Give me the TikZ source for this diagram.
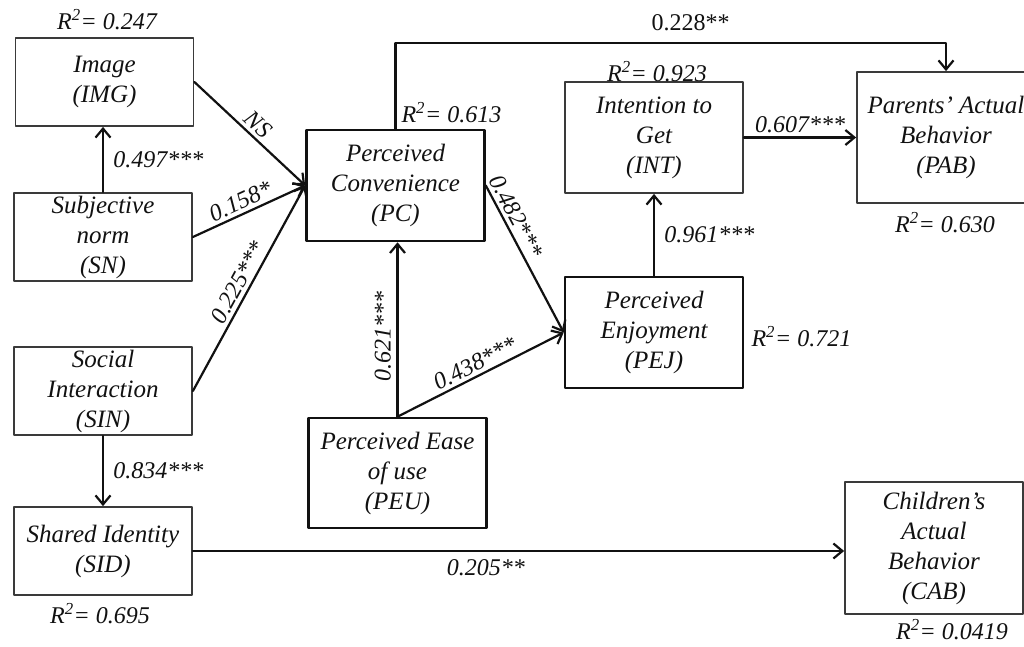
\documentclass[tikz,border=0pt]{standalone}
\usepackage{fontspec}
\setmainfont{Liberation Serif}
\usetikzlibrary{arrows.meta}
\definecolor{tamInk}{HTML}{111111}
\definecolor{tamFrame}{HTML}{3A3A3A}
\definecolor{tamPaper}{HTML}{FFFFFF}
\begin{document}
\begin{tikzpicture}[x=1pt,y=-1pt,>={Straight Barb[length=9pt,width=15pt]},line cap=round,line join=round]
\clip (0,0) rectangle (1024,647);
\path[fill=tamPaper] (0,0) rectangle (1024,647);
\tikzset{box/.style={draw=tamFrame,line width=1.8pt,align=center,text=tamInk,font=\fontsize{25}{30}\selectfont\itshape,minimum width=178pt,inner sep=0pt},boldbox/.style={box,draw=tamInk,line width=2.6pt},link/.style={draw=tamInk,line width=2.2pt,->},coef/.style={text=tamInk,font=\fontsize{24}{28}\selectfont\itshape},rsq/.style={text=tamInk,font=\fontsize{24}{28}\selectfont\itshape}}
\node[box,minimum height=88pt] (img) at (104.5,82) {Image\\(IMG)};
\node[box,minimum height=88pt] (sn) at (103,237) {Subjective\\norm\\(SN)};
\node[box,minimum height=88pt] (sin) at (103,391) {Social\\Interaction\\(SIN)};
\node[box,minimum height=88pt] (sid) at (103,551) {Shared Identity\\(SID)};
\node[boldbox,minimum height=111pt] (pc) at (395.5,185.5) {Perceived\\Convenience\\(PC)};
\node[box,minimum height=111pt] (int) at (654,137.5) {Intention to\\Get\\(INT)};
\node[box,minimum height=131pt] (pab) at (946,137.5) {Parents’ Actual\\Behavior\\(PAB)};
\node[boldbox,minimum height=111pt] (pej) at (654,332.5) {Perceived\\Enjoyment\\(PEJ)};
\node[boldbox,minimum height=110pt] (peu) at (397.5,473) {Perceived Ease\\of use\\(PEU)};
\node[box,minimum height=132pt] (cab) at (934,548) {Children’s\\Actual\\Behavior\\(CAB)};
\draw[link] (sn.north) -- (sn.north |- img.south) node[coef,midway,right=6pt] {0.497***};
\draw[link] (img.east) -- (pc.west) node[coef,pos=0.5,above,sloped] {NS};
\draw[link] (sn.east) -- (pc.west) node[coef,pos=0.47,above,sloped] {0.158*};
\draw[link] (sin.east) -- (pc.west) node[coef,pos=0.5,above,sloped] {0.225***};
\draw[link] (sin.south) -- (sid.north) node[coef,midway,right=6pt] {0.834***};
\draw[link] (sid.east) -- (sid.east -| cab.west) node[coef,pos=0.45,below=4pt] {0.205**};
\draw[link] (pc.north) -- ++(0,-86) -| (pab.north) node[text=tamInk,font=\fontsize{24}{28}\selectfont,pos=0.268,above=7pt] {0.228**};
\draw[link] (peu.north) -- (peu.north |- pc.south) node[coef,pos=0.46,above=2pt,sloped] {0.621***};
\draw[link] (peu.north) -- (pej.west) node[coef,pos=0.5,above,sloped] {0.438***};
\draw[link] (pc.east) -- (pej.west) node[coef,pos=0.25,above,sloped] {0.482***};
\draw[link] (pej.north) -- (int.south) node[coef,midway,right=6pt] {0.961***};
\draw[link] (int.east) -- (pab.west) node[coef,midway,above] {0.607***};
\node[rsq] (r2img) at (107,20) {R\textsuperscript{2}= 0.247};
\node[rsq,anchor=west] (r2pc) at (398,113) {R\textsuperscript{2}= 0.613};
\node[rsq] (r2int) at (657,72) {R\textsuperscript{2}= 0.923};
\node[rsq] (r2pab) at (945,223) {R\textsuperscript{2}= 0.630};
\node[rsq,anchor=west] (r2pej) at (748,337) {R\textsuperscript{2}= 0.721};
\node[rsq] (r2sid) at (100,614) {R\textsuperscript{2}= 0.695};
\node[rsq] (r2cab) at (952,630) {R\textsuperscript{2}= 0.0419};
\end{tikzpicture}
\end{document}
